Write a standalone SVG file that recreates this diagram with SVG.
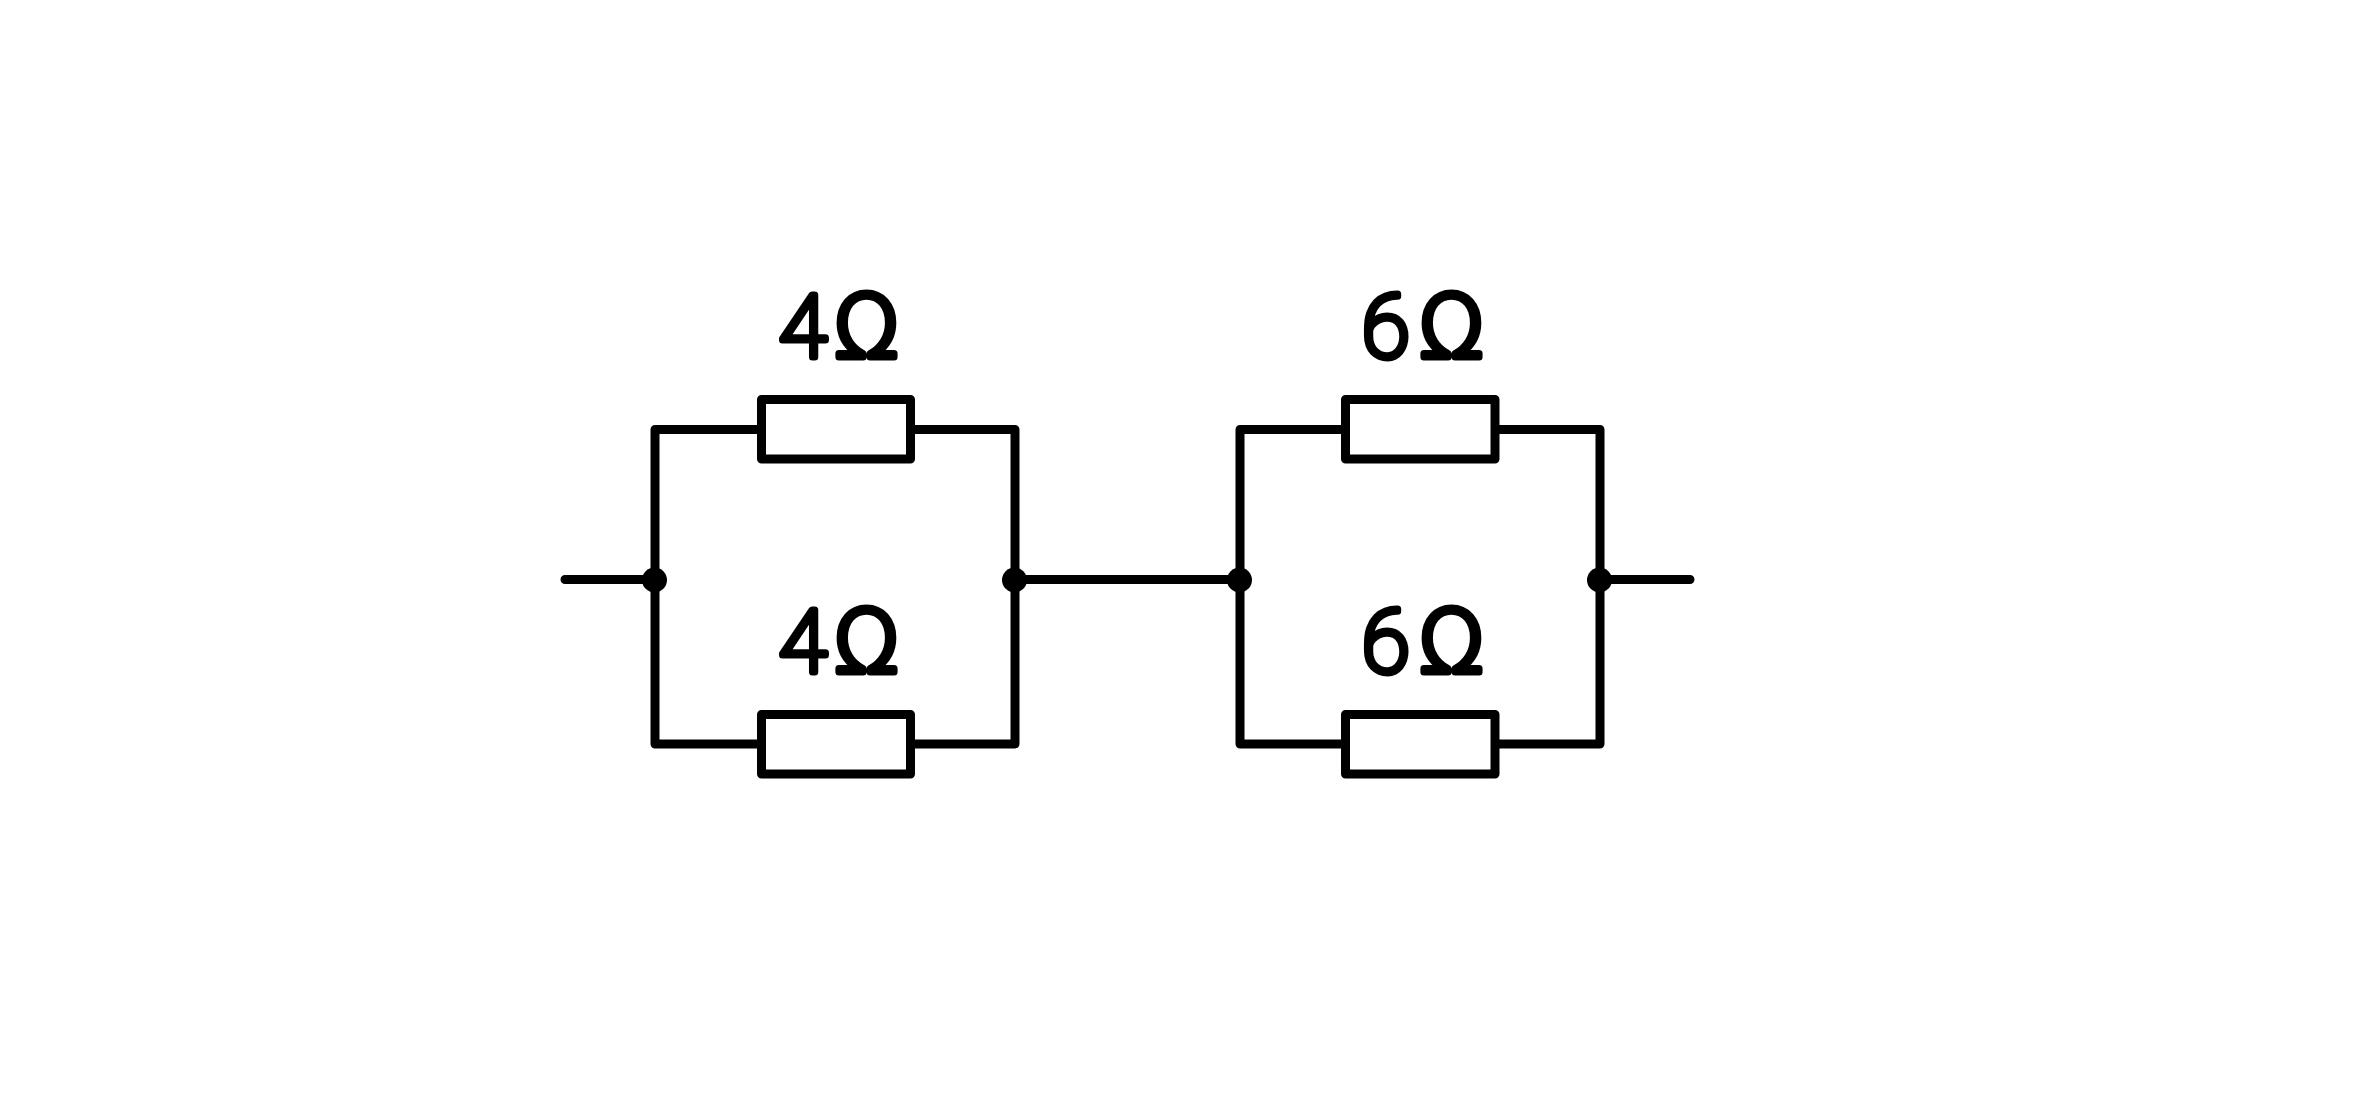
<svg xmlns="http://www.w3.org/2000/svg" width="2355" height="1110" viewBox="0 0 2355 1110">
<style>
.w{fill:none;stroke:#000;stroke-width:9;stroke-linecap:round;stroke-linejoin:round}
.r{fill:#fff;stroke:#000;stroke-width:9;stroke-linejoin:round}
.d{fill:#000}
.t{font-family:"Roboto","DejaVu Sans",sans-serif;font-size:87px;font-weight:100;fill:#000;stroke:#000;stroke-width:7;stroke-linejoin:round;stroke-linecap:round}
.o{font-family:"DejaVu Sans",sans-serif;font-size:85px;font-weight:200}
</style>
<rect width="2355" height="1110" fill="#fff"/>
<g id="connectors">
<path class="w" d="M565 579.500H655M655 429.500V744M655 429.500H761.500M655 744H761.500M910.500 429.500H1015V744H910.500M1015 579.500H1240M1240 429.500V744M1240 429.500H1345.500M1240 744H1345.500M1495 429.500H1600V744H1495M1600 579.500H1690"/>
</g>
<g id="r1"><rect class="r" x="761.500" y="399.500" width="149" height="59.500"/><text class="t" x="779" y="356.500">4</text><text class="t o" x="834" y="356.500">Ω</text></g>
<g id="r2"><rect class="r" x="761.500" y="714.500" width="149" height="59.500"/><text class="t" x="779" y="671.500">4</text><text class="t o" x="834" y="671.500">Ω</text></g>
<g id="r3"><rect class="r" x="1345.500" y="399.500" width="149.500" height="59.500"/><text class="t" x="1362" y="356.500">6</text><text class="t o" x="1419" y="356.500">Ω</text></g>
<g id="r4"><rect class="r" x="1345.500" y="714.500" width="149.500" height="59.500"/><text class="t" x="1362" y="671.500">6</text><text class="t o" x="1419" y="671.500">Ω</text></g>
<g id="j1"><circle class="d" cx="654.500" cy="580" r="12.500"/></g>
<g id="j2"><circle class="d" cx="1014.500" cy="580" r="12.500"/></g>
<g id="j3"><circle class="d" cx="1239.500" cy="580" r="12.500"/></g>
<g id="j4"><circle class="d" cx="1599.500" cy="580" r="12.500"/></g>
</svg>
